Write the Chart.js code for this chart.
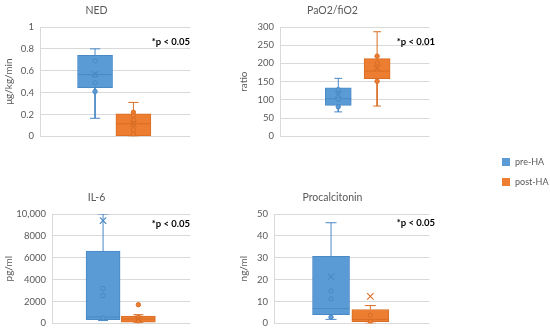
<!DOCTYPE html>
<html><head><meta charset="utf-8">
<script src="https://cdn.jsdelivr.net/npm/chart.js@4.4.1/dist/chart.umd.min.js"></script>
<style>
html,body{margin:0;padding:0;background:#fff;width:550px;height:333px;overflow:hidden;font-family:Lato,"Liberation Sans",sans-serif}
canvas{position:absolute;display:block}
.p{position:absolute;font-weight:bold;font-size:9.5px;line-height:12px;color:#000;white-space:nowrap;text-align:right}
.leg{position:absolute;font-size:9px;color:#595959;line-height:12px;white-space:nowrap}
.sw{position:absolute;width:8px;height:8px}
</style></head><body>
<canvas id="c1" width="196" height="148" style="left:0;top:0"></canvas>
<canvas id="c2" width="200" height="148" style="left:235px;top:0"></canvas>
<canvas id="c3" width="196" height="148" style="left:0;top:187px"></canvas>
<canvas id="c4" width="200" height="148" style="left:235px;top:187px"></canvas>
<div class="p" style="right:360px;top:36px">*p &lt; 0.05</div>
<div class="p" style="right:115px;top:36px">*p &lt; 0.01</div>
<div class="p" style="right:360px;top:218px">*p &lt; 0.05</div>
<div class="p" style="right:115px;top:217px">*p &lt; 0.05</div>
<div class="sw" style="left:502px;top:158px;background:#5B9BD5"></div>
<div class="leg" id="l1" style="left:515px;top:156px"></div>
<div class="sw" style="left:502px;top:178px;background:#ED7D31"></div>
<div class="leg" id="l2" style="left:515px;top:176px"></div>
<script>
// ---- data ----
const seriesNames = ['pre-HA', 'post-HA'];
// box stats: [min, q1, median, q3, max]
const nedBox = [[0.165, 0.445, 0.565, 0.74, 0.80], [0.0, 0.0, 0.115, 0.205, 0.31]];
const nedMean = [0.57, 0.115];
const nedPoints = [[0.69, 0.56, 0.49, 0.41], [0.22, 0.19, 0.15, 0.11, 0.06, 0.02]];
const nedTicks = ['0', '0.2', '0.4', '0.6', '0.8', '1'];

const pfBox = [[67, 85, 103, 133, 159], [83, 158, 179, 213, 287]];
const pfMean = [115, 187];
const pfPoints = [[128, 101, 81], [220, 201, 151]];
const pfTicks = ['0', '50', '100', '150', '200', '250', '300'];

const il6Box = [[250, 340, 580, 6600, 10000], [50, 100, 400, 650, 790]];
const il6Mean = [9400, 400];
const il6Points = [[3180, 2530, 490], [1700, 550, 200]];
const il6Ticks = ['0', '2000', '4000', '6000', '8000', '10,000'];

const pctBox = [[1.8, 4.0, 6.7, 30.6, 46], [0, 0.8, 1.8, 6.3, 8.1]];
const pctMean = [21.3, 12.3];
const pctPoints = [[14.8, 11.2, 2.8], [3.7, 0.8]];
const pctTicks = ['0', '10', '20', '30', '40', '50'];

// ---- styles ----
const fills = ['#5B9BD5', '#ED7D31'];
const edges = ['#4A88C6', '#D86E26'];
const GRAY = '#595959';
Chart.defaults.font.family = 'Lato, "Liberation Sans", sans-serif';
Chart.defaults.animation = false;

document.getElementById('l1').textContent = seriesNames[0];
document.getElementById('l2').textContent = seriesNames[1];

function buildDatasets(box, mean, points, centers, boxPx, plotW) {
  const ds = [];
  const hw = boxPx / 2 / plotW, hc = boxPx * 0.15 / plotW;
  box.forEach((b, s) => {
    const c = centers[s];
    const [mn, q1, md, q3, mx] = b;
    ds.push({type: 'bar', label: seriesNames[s], data: [{x: c, y: [q1, q3]}],
      backgroundColor: fills[s], borderColor: edges[s], borderWidth: 1, borderSkipped: false,
      barThickness: boxPx, grouped: false, order: 4});
    ds.push({type: 'line', data: [
      {x: c, y: q3}, {x: c, y: mx}, {x: c, y: null},
      {x: c, y: q1}, {x: c, y: mn}, {x: c, y: null},
      {x: c - hc, y: mx}, {x: c + hc, y: mx}, {x: c, y: null},
      {x: c - hc, y: mn}, {x: c + hc, y: mn}, {x: c, y: null},
      {x: c - hw, y: md}, {x: c + hw, y: md}],
      borderColor: edges[s], borderWidth: 1, pointRadius: 0, spanGaps: false, fill: false, order: 3});
    ds.push({type: 'scatter', data: points[s].map(v => ({x: c, y: v})),
      pointStyle: 'circle', pointRadius: 2.2, backgroundColor: fills[s], borderColor: edges[s], borderWidth: 1, order: 2});
    ds.push({type: 'scatter', data: [{x: c, y: mean[s]}],
      pointStyle: 'crossRot', pointRadius: 4.5, borderColor: edges[s], borderWidth: 1.1, order: 1});
  });
  return ds;
}

function makeChart(id, title, yTitle, tickLabels, yMax, step, yWidth, padRight, data) {
  new Chart(document.getElementById(id), {
    type: 'bar',
    data: {datasets: data},
    options: {
      responsive: false,
      events: [],
      layout: {padding: {left: 0, right: padRight, top: 0, bottom: 10}},
      plugins: {
        legend: {display: false},
        tooltip: {enabled: false},
        title: {display: true, text: title, color: GRAY, font: {size: 10.5, weight: 'normal'}, padding: {top: 4.5, bottom: 9.9}}
      },
      scales: {
        x: {type: 'linear', min: 0, max: 1, display: false, offset: false},
        y: {
          min: 0, max: yMax,
          ticks: {stepSize: step, color: GRAY, font: {size: 9.5}, padding: 6, callback: (v, i) => tickLabels[i]},
          grid: {color: '#D9D9D9', drawTicks: false},
          border: {display: true, color: '#D9D9D9'},
          title: {display: true, text: yTitle, color: GRAY, font: {size: 10}, padding: {top: 3, bottom: 0}},
          afterFit: s => { s.width = yWidth; }
        }
      }
    }
  });
}

makeChart('c1', 'NED', 'μg/kg/min', nedTicks, 1, 0.2, 40, 3,
  buildDatasets(nedBox, nedMean, nedPoints, [0.366, 0.621], 35, 153));
makeChart('c2', 'PaO2/fiO2', 'ratio', pfTicks, 300, 50, 45, 5,
  buildDatasets(pfBox, pfMean, pfPoints, [0.39, 0.65], 26, 150));
makeChart('c3', 'IL-6', 'pg/ml', il6Ticks, 10000, 2000, 52, 3,
  buildDatasets(il6Box, il6Mean, il6Points, [0.369, 0.624], 34, 141));
makeChart('c4', 'Procalcitonin', 'ng/ml', pctTicks, 50, 10, 39, 5,
  buildDatasets(pctBox, pctMean, pctPoints, [0.367, 0.62], 37, 156));
</script>
</body></html>
